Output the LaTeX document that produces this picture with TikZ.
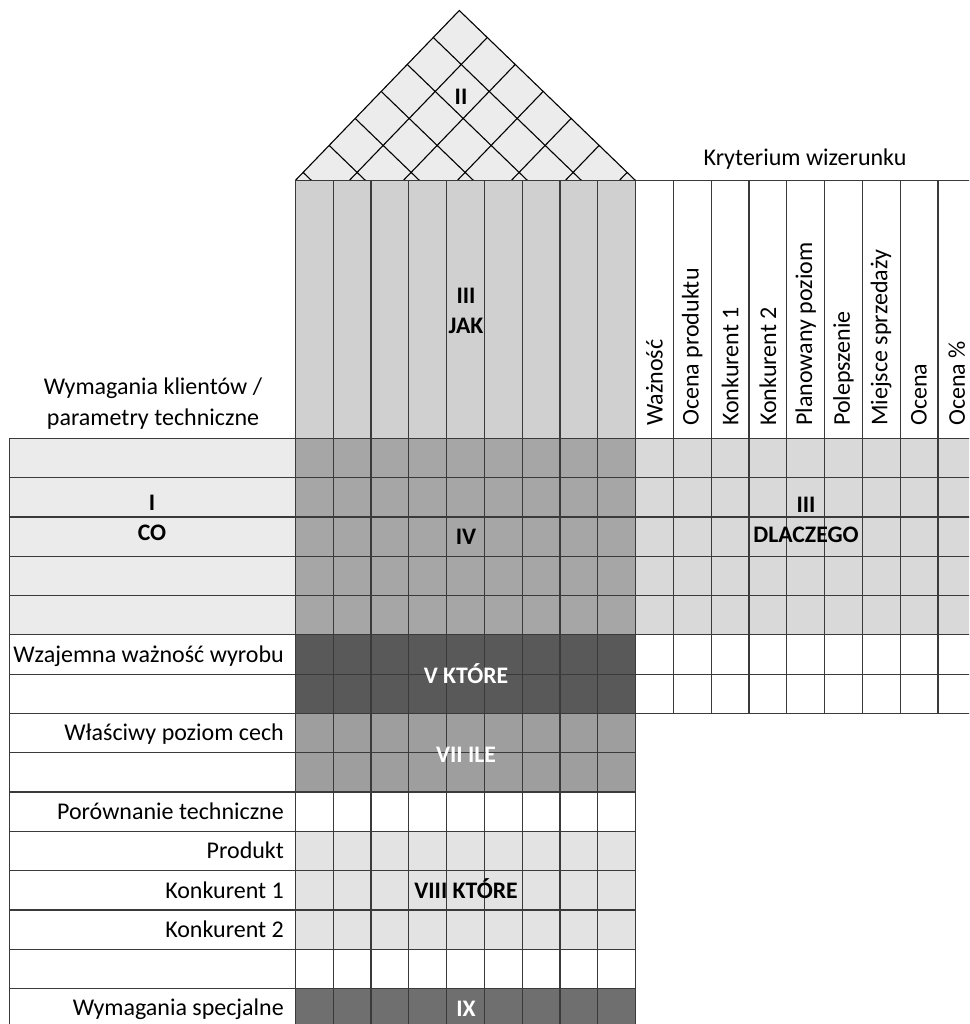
\documentclass[tikz,border=0pt]{standalone}
\usepackage{fontspec}
\setmainfont{Carlito}
\usetikzlibrary{calc}

\definecolor{roofgray}{HTML}{ECECEC}
\definecolor{howgray}{HTML}{D0D0D0}
\definecolor{whatgray}{HTML}{EBEBEB}
\definecolor{relgray}{HTML}{A6A6A6}
\definecolor{whichgray}{HTML}{595959}
\definecolor{howmuchgray}{HTML}{9E9E9E}
\definecolor{compgray}{HTML}{E3E3E3}
\definecolor{specgray}{HTML}{6F6F6F}
\definecolor{whygray}{HTML}{D9D9D9}
\definecolor{rulegray}{HTML}{3A3A3A}

\begin{document}
\begin{tikzpicture}[x=1pt, y=-1pt,
  font=\fontsize{24}{29}\selectfont,
  rule/.style={draw=rulegray, line width=1.2pt},
  rooflines/.style={draw=black, line width=1.1pt},
  tag/.style={font=\fontsize{23.7}{30}\selectfont\bfseries, inner sep=0pt, align=center},
  rowlabel/.style={anchor=base east, inner sep=0pt},
  critlabel/.style={rotate=90, anchor=west, inner sep=0pt}]

\useasboundingbox (0,0) rectangle (969,1024);
\clip (0,0) rectangle (969,1024);

\def\lx{9.5}    % left edge of the requirement column
\def\mx{295.3}  % left edge of the relationship matrix
\def\rx{635.5}  % right edge of the relationship matrix
\def\cw{37.8}   % column width
\def\hy{180.5}  % top of the column headers
\def\ry{438.3}  % top of the first row
\def\rh{39.3}   % row height

% ---- cell fills
\fill[howgray]     (\mx,\hy) rectangle (\rx,\ry);
\fill[whatgray]    (\lx,\ry) rectangle (\mx,{\ry+5*\rh});
\fill[relgray]     (\mx,\ry) rectangle (\rx,{\ry+5*\rh});
\fill[whygray]     (\rx,\ry) rectangle (980,{\ry+5*\rh});
\fill[whichgray]   (\mx,{\ry+5*\rh}) rectangle (\rx,{\ry+7*\rh});
\fill[howmuchgray] (\mx,{\ry+7*\rh}) rectangle (\rx,{\ry+9*\rh});
\fill[compgray]    (\mx,{\ry+10*\rh}) rectangle (\rx,{\ry+13*\rh});
\fill[specgray]    (\mx,{\ry+14*\rh}) rectangle (\rx,{\ry+15*\rh});

% ---- correlation roof
\coordinate (apex) at (459.3,10.5);
\coordinate (bl) at (\mx,\hy);
\coordinate (br) at (\rx,\hy);
\fill[roofgray] (apex) -- (bl) -- (br) -- cycle;
\foreach \k in {1,...,6}{
  \draw[rooflines] ($(apex)!\k/6.3!(bl)$) -- ($(br)!\k/6.3!(bl)$);
  \draw[rooflines] ($(apex)!\k/6.3!(br)$) -- ($(bl)!\k/6.3!(br)$);
}
\draw[rooflines, line join=miter] (bl) -- (apex) -- (br);

% ---- grid rules
\foreach \i in {0,...,9}
  \draw[rule] ({\mx+\i*\cw},\hy) -- ({\mx+\i*\cw},1030);
\foreach \i in {1,...,9}
  \draw[rule] ({\rx+\i*\cw},\hy) -- ({\rx+\i*\cw},{\ry+7*\rh});
\draw[rule] (\mx,\hy) -- (980,\hy);
\foreach \j in {0,...,15}
  \draw[rule] (\lx,{\ry+\j*\rh}) -- (\rx,{\ry+\j*\rh});
\foreach \j in {0,...,7}
  \draw[rule] (\rx,{\ry+\j*\rh}) -- (980,{\ry+\j*\rh});
\draw[rule] (\lx,\ry) -- (\lx,1030);

% ---- section tags (base = baseline of the last line)
\node[tag, anchor=base] (secII) at (461,104.3) {II};
\node[tag, anchor=base] (secIII) at (466,333.3) {III\\JAK};
\node[tag, anchor=base] (secI) at (152,540.3) {I\\CO};
\node[tag, anchor=base] (secIV) at (466,544.6) {IV};
\node[tag, anchor=base] (secWhy) at (806,542.7) {III\\DLACZEGO};
\node[tag, anchor=base, text=white] (secV) at (466,683.5) {V KTÓRE};
\node[tag, anchor=base, text=white] (secVII) at (466,762) {VII ILE};
\node[tag, anchor=base] (secVIII) at (466,898.6) {VIII KTÓRE};
\node[tag, anchor=base, text=white] (secIX) at (466,1016.5) {IX};

% ---- headings
\node[anchor=base, inner sep=0pt] (image) at (805,166) {Kryterium wizerunku};
\node[anchor=base, inner sep=0pt, align=center,
      font=\fontsize{24}{31}\selectfont] (reqhead) at (153,425)
  {Wymagania klientów /\\parametry techniczne};

% ---- row labels
\node[rowlabel] (rowV)    at (284,{\ry+5.5*\rh+7.8})  {Wzajemna ważność wyrobu};
\node[rowlabel] (rowVII)  at (284,{\ry+7.5*\rh+7.8})  {Właściwy poziom cech};
\node[rowlabel] (rowComp) at (284,{\ry+9.5*\rh+7.8})  {Porównanie techniczne};
\node[rowlabel] (rowProd) at (284,{\ry+10.5*\rh+7.8}) {Produkt};
\node[rowlabel] (rowK1)   at (284,{\ry+11.5*\rh+7.8}) {Konkurent 1};
\node[rowlabel] (rowK2)   at (284,{\ry+12.5*\rh+7.8}) {Konkurent 2};
\node[rowlabel] (rowSpec) at (284,{\ry+14.5*\rh+7.8}) {Wymagania specjalne};

% ---- criteria column heads
\foreach \t [count=\i from 0] in {Ważność, Ocena produktu, Konkurent 1,
    Konkurent 2, Planowany poziom, Polepszenie, Miejsce sprzedaży, Ocena, Ocena \%}
  \node[critlabel] (crit\i) at ({\rx+(\i+0.5)*\cw},426) {\t};
\end{tikzpicture}
\end{document}
